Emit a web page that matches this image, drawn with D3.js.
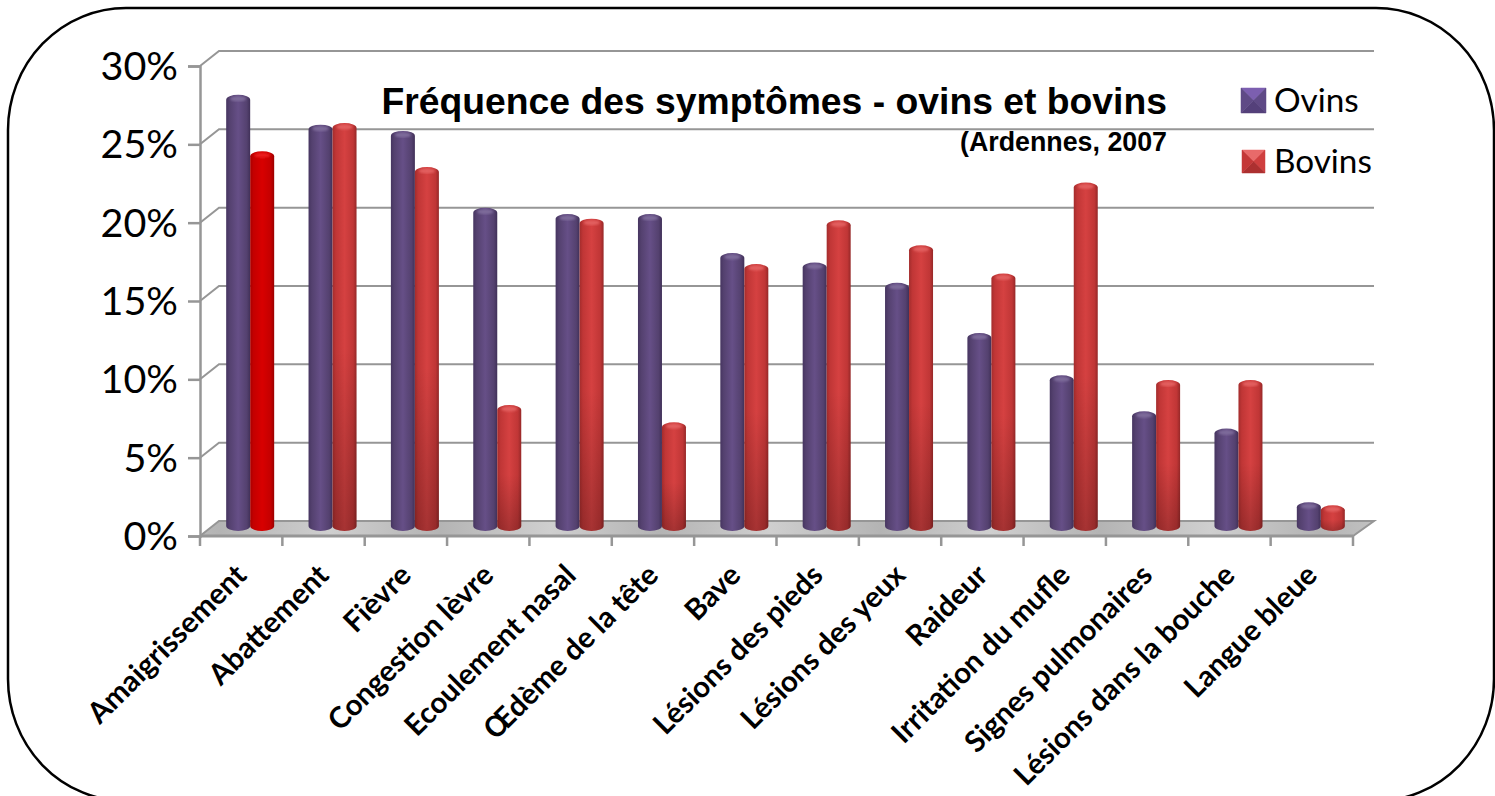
<!DOCTYPE html>
<html><head><meta charset="utf-8">
<script src="https://cdn.jsdelivr.net/npm/d3@7"></script>
<style>html,body{margin:0;padding:0;background:#fff;overflow:hidden}svg{display:block}</style>
</head><body><svg id="c" width="1495" height="796"></svg>
<script>
const categories=["Amaigrissement","Abattement","Fièvre","Congestion lèvre","Ecoulement nasal","Œdème de la tête","Bave","Lésions des pieds","Lésions des yeux","Raideur","Irritation du mufle","Signes pulmonaires","Lésions dans la bouche","Langue bleue"];
const ovins=[27.2,25.3,24.9,20.0,19.6,19.6,17.1,16.5,15.2,12.0,9.3,7.0,5.9,1.2];
const bovins=[23.6,25.4,22.6,7.4,19.3,6.3,16.4,19.2,17.6,15.8,21.6,9.0,9.0,1.0];
const seriesNames=["Ovins","Bovins"];
const yTicks=[0,5,10,15,20,25,30];
const svg=d3.select("#c");
const defs=svg.append("defs");
const fl={left:200,right:1353,zero:536,top:66}, dx=19, dy=15;
const x=d3.scaleBand().domain(categories).range([fl.left,fl.right]);
const yFront=d3.scaleLinear().domain([0,30]).range([fl.zero,fl.top]);
const yBar=d3.scaleLinear().domain([0,30]).range([526,56]);
const grey="#969696";

function hgrad(id,stops){const g=defs.append("linearGradient").attr("id",id);
 stops.forEach(s=>g.append("stop").attr("offset",s[0]).attr("stop-color",s[1]));}
hgrad("ov",[[0,"#463560"],[.14,"#54416f"],[.5,"#664f87"],[.86,"#54416f"],[1,"#403058"]]);
hgrad("bo",[[0,"#a32c2c"],[.14,"#c03636"],[.5,"#d54141"],[.86,"#c03636"],[1,"#962828"]]);
hgrad("re",[[0,"#a80000"],[.14,"#c40000"],[.5,"#d80000"],[.86,"#c40000"],[1,"#9a0000"]]);
const sh=defs.append("linearGradient").attr("id","shade").attr("x1",0).attr("x2",0).attr("y1",0).attr("y2",1);
sh.append("stop").attr("offset",0).attr("stop-color","#000").attr("stop-opacity",0);
sh.append("stop").attr("offset",.55).attr("stop-color","#000").attr("stop-opacity",0);
sh.append("stop").attr("offset",1).attr("stop-color","#000").attr("stop-opacity",.22);
const fg=defs.append("linearGradient").attr("id","floor").attr("gradientUnits","userSpaceOnUse")
 .attr("x1",0).attr("x2",110).attr("y1",0).attr("y2",0).attr("spreadMethod","reflect");
fg.append("stop").attr("offset",0).attr("stop-color","#b4b4b4");
fg.append("stop").attr("offset",1).attr("stop-color","#cfcfcf");
defs.append("filter").attr("id","soft").append("feGaussianBlur").attr("stdDeviation",1);

// frame
svg.append("rect").attr("x",8).attr("y",8).attr("width",1486).attr("height",793)
 .attr("rx",118).attr("ry",122).attr("fill","#fff").attr("stroke","#000").attr("stroke-width",2.5);

// grid on the back wall and side wall
const g=svg.append("g");
yTicks.filter(d=>d>0).forEach(t=>{
  const yy=yFront(t);
  g.append("path").attr("d",`M${fl.left},${yy}L${fl.left+dx},${yy-dy}H${fl.right+21}`)
   .attr("fill","none").attr("stroke",grey).attr("stroke-width",2);
});
g.append("path").attr("d",`M${fl.left},${fl.zero}L${fl.left+dx},${fl.zero-dy}H${fl.right+21}L${fl.right},${fl.zero}Z`)
 .attr("fill","url(#floor)").attr("stroke",grey).attr("stroke-width",2);
g.append("line").attr("x1",fl.left).attr("x2",fl.right).attr("y1",fl.zero).attr("y2",fl.zero).attr("stroke",grey).attr("stroke-width",3);

// axes
const yAxis=d3.axisLeft(yFront).tickValues(yTicks).tickSize(12).tickPadding(10).tickFormat(d=>d+"%");
const ay=svg.append("g").attr("transform",`translate(${fl.left},1)`).call(yAxis);
ay.selectAll("path,line").attr("stroke",grey).attr("stroke-width",2.5).attr("transform","translate(0,-1)");
ay.selectAll("text").attr("font-family","Lato, sans-serif").attr("font-size",39.5).attr("fill","#000");
const xAxis=d3.axisBottom(x).tickSize(10).tickFormat("").tickSizeOuter(10);
const ax=svg.append("g").attr("transform",`translate(0,${fl.zero})`).call(xAxis);
ax.select("path").attr("stroke","none");
ax.selectAll(".tick").attr("transform",d=>`translate(${x(d)},0)`);
ax.selectAll("line").attr("stroke",grey).attr("stroke-width",2.5);
ax.append("line").attr("x1",fl.right).attr("x2",fl.right).attr("y1",0).attr("y2",10).attr("stroke",grey).attr("stroke-width",2.5);

// bars
const rx=12, ry=5, off=[-12,12];
const highlight=["#7d6a9a","#e25e5e","#ea1c1c"];
function bar(cat,val,si,i){
  const isRed=si===1&&i===0;
  const key=si===0?"ov":(isRed?"re":"bo");
  const cx=x(cat)+x.bandwidth()/2+9+off[si];
  const yT=yBar(val), yB=yBar(0);
  const d=`M${cx-rx},${yT}V${yB}A${rx},${ry} 0 0 0 ${cx+rx},${yB}V${yT}A${rx},${ry} 0 0 0 ${cx-rx},${yT}Z`;
  const b=svg.append("g").attr("class","bar");
  b.append("path").attr("d",d).attr("fill",`url(#${key})`);
  if(!isRed&&si===1) b.append("path").attr("d",d).attr("fill","url(#shade)");
  b.append("ellipse").attr("cx",cx).attr("cy",yT-1).attr("rx",rx-4).attr("ry",2.5)
   .attr("fill",highlight[si===0?0:(isRed?2:1)]).attr("filter","url(#soft)");
}
categories.forEach((c,i)=>{bar(c,ovins[i],0,i);bar(c,bovins[i],1,i);});

// category labels
svg.append("g").selectAll("text").data(categories).join("text")
 .attr("transform",d=>`translate(${x(d)+x.bandwidth()/2+7},577) rotate(-45)`)
 .attr("text-anchor","end").attr("font-family","Lato, sans-serif").attr("font-weight",700)
 .attr("font-size",29.3).attr("fill","#000").text(d=>d);

// titles
svg.append("text").attr("x",1167).attr("y",114).attr("text-anchor","end")
 .attr("font-family","'Liberation Sans',Arial,sans-serif").attr("font-weight",700).attr("font-size",37.3)
 .text("Fréquence des symptômes - ovins et bovins");
svg.append("text").attr("x",1167).attr("y",151).attr("text-anchor","end")
 .attr("font-family","'Liberation Sans',Arial,sans-serif").attr("font-weight",700).attr("font-size",26.8)
 .text("(Ardennes, 2007");

// legend
const legCol=[["#7c5fb0","#5f4a86","#54407a","#5f4a86"],["#e86a6a","#cf3f3f","#ac3030","#c43838"]];
[{x:1241,y:88,s:25,ty:112},{x:1242,y:150,s:23,ty:173}].forEach((l,i)=>{
  const G=svg.append("g"),c=legCol[i],m=l.s/2,X=l.x,Y=l.y,S=l.s;
  const cx=X+m,cy=Y+m;
  [[`M${X},${Y}H${X+S}L${cx},${cy}Z`,c[0]],[`M${X+S},${Y}V${Y+S}L${cx},${cy}Z`,c[1]],
   [`M${X},${Y+S}H${X+S}L${cx},${cy}Z`,c[2]],[`M${X},${Y}V${Y+S}L${cx},${cy}Z`,c[3]]]
   .forEach(p=>G.append("path").attr("d",p[0]).attr("fill",p[1]).attr("stroke",p[1]).attr("stroke-width",.5));
  svg.append("text").attr("x",1274).attr("y",l.ty).attr("font-family","Lato, sans-serif").attr("font-size",33.3).attr("fill","#000").text(seriesNames[i]);
});
</script></body></html>
